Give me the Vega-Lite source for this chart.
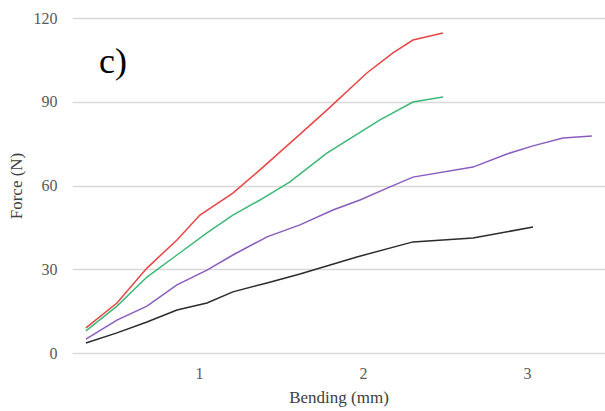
{
  "$schema": "https://vega.github.io/schema/vega-lite/v6.json",
  "width": 533,
  "height": 335,
  "autosize": {"type": "none"},
  "padding": {"left": 72, "top": 18, "right": 0, "bottom": 58},
  "background": "white",
  "config": {
    "view": {"stroke": null},
    "font": "Liberation Serif",
    "text": {"font": "Liberation Serif"},
    "axis": {"labelFont": "Liberation Serif", "titleFont": "Liberation Serif", "labelColor": "#595959", "titleColor": "#404040", "labelFontSize": 16, "titleFontSize": 17, "titleFontWeight": "normal", "labelFontWeight": "normal"}
  },
  "datasets": {
    "lines": [
      {"series": "red", "bending": 0.311, "force": 9.0},
      {"series": "red", "bending": 0.500, "force": 17.9},
      {"series": "red", "bending": 0.683, "force": 30.4},
      {"series": "red", "bending": 0.866, "force": 40.5},
      {"series": "red", "bending": 1.006, "force": 49.4},
      {"series": "red", "bending": 1.207, "force": 57.3},
      {"series": "red", "bending": 1.372, "force": 65.6},
      {"series": "red", "bending": 1.598, "force": 77.4},
      {"series": "red", "bending": 1.780, "force": 87.0},
      {"series": "red", "bending": 2.024, "force": 100.3},
      {"series": "red", "bending": 2.183, "force": 107.5},
      {"series": "red", "bending": 2.305, "force": 112.1},
      {"series": "red", "bending": 2.488, "force": 114.6},
      {"series": "green", "bending": 0.311, "force": 7.9},
      {"series": "green", "bending": 0.500, "force": 16.8},
      {"series": "green", "bending": 0.683, "force": 27.2},
      {"series": "green", "bending": 0.866, "force": 35.1},
      {"series": "green", "bending": 1.049, "force": 43.0},
      {"series": "green", "bending": 1.207, "force": 49.4},
      {"series": "green", "bending": 1.372, "force": 54.8},
      {"series": "green", "bending": 1.555, "force": 61.3},
      {"series": "green", "bending": 1.780, "force": 71.6},
      {"series": "green", "bending": 2.104, "force": 83.5},
      {"series": "green", "bending": 2.305, "force": 89.9},
      {"series": "green", "bending": 2.488, "force": 91.7},
      {"series": "purple", "bending": 0.311, "force": 5.0},
      {"series": "purple", "bending": 0.500, "force": 11.8},
      {"series": "purple", "bending": 0.683, "force": 16.8},
      {"series": "purple", "bending": 0.866, "force": 24.4},
      {"series": "purple", "bending": 1.049, "force": 29.7},
      {"series": "purple", "bending": 1.207, "force": 35.1},
      {"series": "purple", "bending": 1.415, "force": 41.6},
      {"series": "purple", "bending": 1.616, "force": 45.9},
      {"series": "purple", "bending": 1.817, "force": 51.2},
      {"series": "purple", "bending": 1.982, "force": 54.8},
      {"series": "purple", "bending": 2.165, "force": 59.5},
      {"series": "purple", "bending": 2.305, "force": 63.0},
      {"series": "purple", "bending": 2.671, "force": 66.6},
      {"series": "purple", "bending": 2.878, "force": 71.3},
      {"series": "purple", "bending": 3.037, "force": 74.2},
      {"series": "purple", "bending": 3.220, "force": 77.0},
      {"series": "purple", "bending": 3.396, "force": 77.7},
      {"series": "black", "bending": 0.311, "force": 3.6},
      {"series": "black", "bending": 0.500, "force": 7.2},
      {"series": "black", "bending": 0.683, "force": 11.1},
      {"series": "black", "bending": 0.866, "force": 15.4},
      {"series": "black", "bending": 1.049, "force": 17.9},
      {"series": "black", "bending": 1.207, "force": 21.9},
      {"series": "black", "bending": 1.415, "force": 25.1},
      {"series": "black", "bending": 1.616, "force": 28.3},
      {"series": "black", "bending": 1.963, "force": 34.4},
      {"series": "black", "bending": 2.305, "force": 39.8},
      {"series": "black", "bending": 2.671, "force": 41.2},
      {"series": "black", "bending": 3.037, "force": 45.1}
    ],
    "label": [{"bending": 0.476, "force": 104.2, "text": "c)"}]
  },
  "layer": [
    {
      "data": {"name": "lines"},
      "mark": {"type": "line", "strokeWidth": 1.5, "interpolate": "linear"},
      "encoding": {
        "x": {
          "field": "bending", "type": "quantitative",
          "scale": {"domain": [0.226, 3.476], "nice": false, "zero": false},
          "axis": {"values": [1, 2, 3], "format": "d", "title": "Bending (mm)", "grid": false, "domain": false, "ticks": false, "labelPadding": 12, "titlePadding": 8}
        },
        "y": {
          "field": "force", "type": "quantitative",
          "scale": {"domain": [0, 120], "nice": false},
          "axis": {"values": [0, 30, 60, 90, 120], "title": "Force (N)", "grid": true, "gridColor": "#d9d9d9", "gridWidth": 1.5, "domain": false, "ticks": false, "labelPadding": 15, "titlePadding": 8}
        },
        "color": {
          "field": "series", "type": "nominal",
          "scale": {"domain": ["red", "green", "purple", "black"], "range": ["#e84545", "#3cb876", "#8a5cc0", "#2b2b2b"]},
          "legend": null
        },
        "detail": {"field": "series"}
      }
    },
    {
      "data": {"name": "label"},
      "mark": {"type": "text", "font": "Liberation Serif", "fontSize": 36, "fontWeight": "normal", "color": "#000000", "align": "center", "baseline": "middle"},
      "encoding": {
        "x": {"field": "bending", "type": "quantitative"},
        "y": {"field": "force", "type": "quantitative"},
        "text": {"field": "text"}
      }
    }
  ]
}
